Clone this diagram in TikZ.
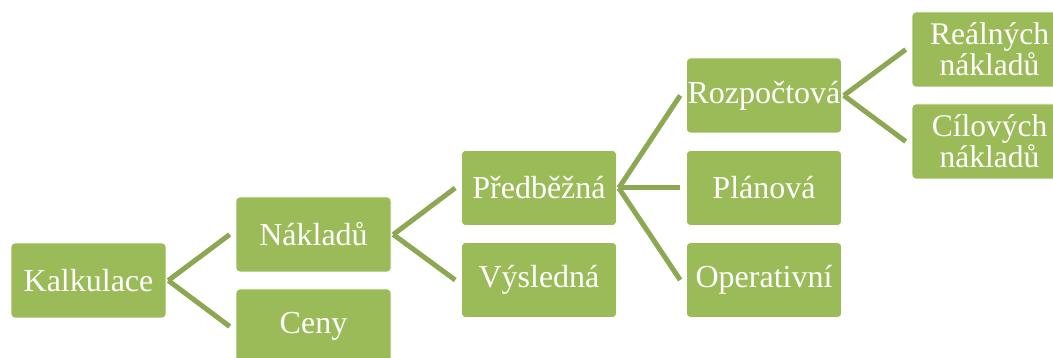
\documentclass[tikz,border=0pt]{standalone}
\usepackage{fontspec}
\setmainfont{Liberation Serif}
\definecolor{boxgreen}{HTML}{9BBB59}
\definecolor{linkgreen}{HTML}{8CA852}
\begin{document}
\begin{tikzpicture}[x=1pt,y=-1pt,
  box/.style={fill=boxgreen, draw=white, line width=0.6pt, rounded corners=4pt,
    minimum width=155pt, minimum height=75pt, inner sep=0pt, text=white,
    font=\fontsize{32}{34}\selectfont, align=center},
  smallbox/.style={box, font=\fontsize{31.5}{29}\selectfont},
  link/.style={draw=linkgreen, line width=5pt}]
\useasboundingbox (0,0) rectangle (1053,358);
\begin{scope}
\clip (0,0) rectangle (1053,358);
% first level
\node[box] (kalk) at (88.5,280.5) {Kalkulace};
% second level
\node[box] (nakl) at (313.5,234.5) {Nákladů};
\node[box] (ceny) at (313.5,326.5) {Ceny};
% third level
\node[box] (pred) at (539,188) {Předběžná};
\node[box] (vysl) at (539,280) {Výsledná};
% fourth level
\node[box] (rozp) at (764,95.5) {Rozpočtová};
\node[box] (plan) at (764,188) {Plánová};
\node[box] (oper) at (764,280) {Operativní};
% fifth level
\node[smallbox] (real) at (989.5,49.5) {Reálných\\nákladů};
\node[smallbox] (cil) at (989.5,141.5) {Cílových\\nákladů};
% connectors
\foreach \p/\c in {kalk/nakl, kalk/ceny, nakl/pred, nakl/vysl,
                   pred/rozp, pred/plan, pred/oper, rozp/real, rozp/cil}
  \draw[link] ([xshift=2pt]\p.east) -- ([xshift=-6pt]\c.west);
\end{scope}
\end{tikzpicture}
\end{document}
